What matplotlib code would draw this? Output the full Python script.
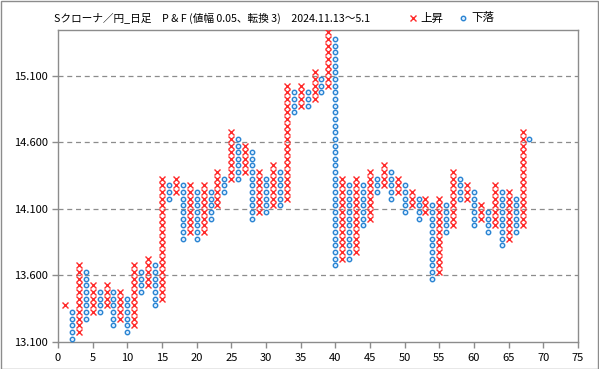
import matplotlib
matplotlib.use("Agg")
import matplotlib.pyplot as plt
from matplotlib.lines import Line2D
from matplotlib.patches import Rectangle

plt.rcParams['font.family'] = ['Noto Sans CJK JP', 'DejaVu Sans']

title = "Sクローナ／円_日足　P & F (値幅 0.05、転換 3)　2024.11.13～5.1"
legend_up = "上昇"
legend_down = "下落"

# Column data: type ('X' rising / 'O' falling), lowest and highest box price
col_type = ['X', 'O', 'X', 'O', 'X', 'O', 'X', 'O', 'X', 'O',
            'X', 'O', 'X', 'O', 'X', 'O', 'X', 'O', 'X', 'O',
            'X', 'O', 'X', 'O', 'X', 'O', 'X', 'O', 'X', 'O',
            'X', 'O', 'X', 'O', 'X', 'O', 'X', 'O', 'X', 'O',
            'X', 'O', 'X', 'O', 'X', 'O', 'X', 'O', 'X', 'O',
            'X', 'O', 'X', 'O', 'X', 'O', 'X', 'O', 'X', 'O',
            'X', 'O', 'X', 'O', 'X', 'O', 'X', 'O']
col_low = [13.375, 13.125, 13.175, 13.275, 13.325, 13.325, 13.375, 13.225, 13.275, 13.175,
           13.225, 13.475, 13.525, 13.375, 13.425, 14.175, 14.225, 13.875, 13.925, 13.875,
           13.925, 14.025, 14.125, 14.225, 14.325, 14.325, 14.375, 14.025, 14.075, 14.075,
           14.125, 14.125, 14.175, 14.825, 14.875, 14.875, 14.925, 14.975, 15.025, 13.675,
           13.725, 13.725, 13.775, 13.975, 14.025, 14.225, 14.275, 14.175, 14.225, 14.075,
           14.125, 14.025, 14.075, 13.575, 13.625, 13.925, 13.975, 14.175, 14.175, 13.975,
           14.025, 13.925, 13.975, 13.825, 13.875, 13.925, 13.975, 14.625]
col_high = [13.375, 13.325, 13.675, 13.625, 13.525, 13.475, 13.525, 13.475, 13.475, 13.425,
            13.675, 13.625, 13.725, 13.675, 14.325, 14.275, 14.325, 14.275, 14.275, 14.225,
            14.275, 14.225, 14.375, 14.325, 14.675, 14.625, 14.575, 14.525, 14.375, 14.325,
            14.425, 14.375, 15.025, 14.975, 15.025, 14.975, 15.125, 15.075, 15.425, 15.375,
            14.325, 14.275, 14.325, 14.275, 14.375, 14.325, 14.425, 14.375, 14.325, 14.275,
            14.225, 14.175, 14.175, 14.125, 14.175, 14.125, 14.375, 14.325, 14.275, 14.225,
            14.125, 14.075, 14.275, 14.225, 14.225, 14.175, 14.675, 14.625]
box_size = 0.05

y_ticks = [13.1, 13.6, 14.1, 14.6, 15.1]
x_ticks = list(range(0, 80, 5))

W, H = 599, 369
fig = plt.figure(figsize=(W / 100, H / 100), dpi=100)
ax = fig.add_axes([58 / W, 1 - 342 / H, 520 / W, 312 / H])

xs_x, ys_x, xs_o, ys_o = [], [], [], []
for i, (t, lo, hi) in enumerate(zip(col_type, col_low, col_high)):
    n = int(round((hi - lo) / box_size)) + 1
    for j in range(n):
        v = lo + j * box_size
        if t == 'X':
            xs_x.append(i + 1); ys_x.append(v)
        else:
            xs_o.append(i + 1); ys_o.append(v)

ax.plot(xs_x, ys_x, linestyle='none', marker='x', markersize=4.5,
        markeredgewidth=1.0, color='#FF2A2A', zorder=3)
ax.plot(xs_o, ys_o, linestyle='none', marker='o', markersize=3.2,
        markeredgewidth=1.0, markerfacecolor='#DDEEFF', markeredgecolor='#2A84D2', zorder=3)

ax.set_xlim(0, 75)
ax.set_ylim(13.1, 15.442)
ax.set_xticks(x_ticks)
ax.set_yticks(y_ticks)
ax.set_yticklabels([f"{v:.3f}" for v in y_ticks])
for v in y_ticks[1:]:
    ax.axhline(v, color='#8C8C8C', linewidth=0.9, dashes=(4, 3), zorder=1)

for s in ax.spines.values():
    s.set_color('#8C8C8C')
    s.set_linewidth(1.0)
ax.tick_params(axis='both', direction='out', length=4, width=1.0, color='#8C8C8C',
               labelsize=8, labelcolor='#000000', pad=3)
ax.tick_params(axis='x', pad=4)

fig.text(212 / W, 1 - 18 / H, title, ha='center', va='center', fontsize=7.7, color='#000000')

# legend
fig.add_artist(Line2D([413 / W], [1 - 18 / H], transform=fig.transFigure, linestyle='none',
                      marker='x', markersize=4.5, markeredgewidth=1.0, color='#FF2A2A'))
fig.text(420 / W, 1 - 18 / H, legend_up, ha='left', va='center', fontsize=8.3)
fig.add_artist(Line2D([463 / W], [1 - 18 / H], transform=fig.transFigure, linestyle='none',
                      marker='o', markersize=3.2, markeredgewidth=1.0,
                      markerfacecolor='#DDEEFF', markeredgecolor='#2A84D2'))
fig.text(471 / W, 1 - 18 / H, legend_down, ha='left', va='center', fontsize=8.3)

fig.add_artist(Rectangle((0.5 / W, 0.5 / H), (W - 1.5) / W, (H - 1.5) / H, transform=fig.transFigure,
                         fill=False, edgecolor='#8C8C8C', linewidth=1.0))

fig.savefig('out.png', dpi=100)
